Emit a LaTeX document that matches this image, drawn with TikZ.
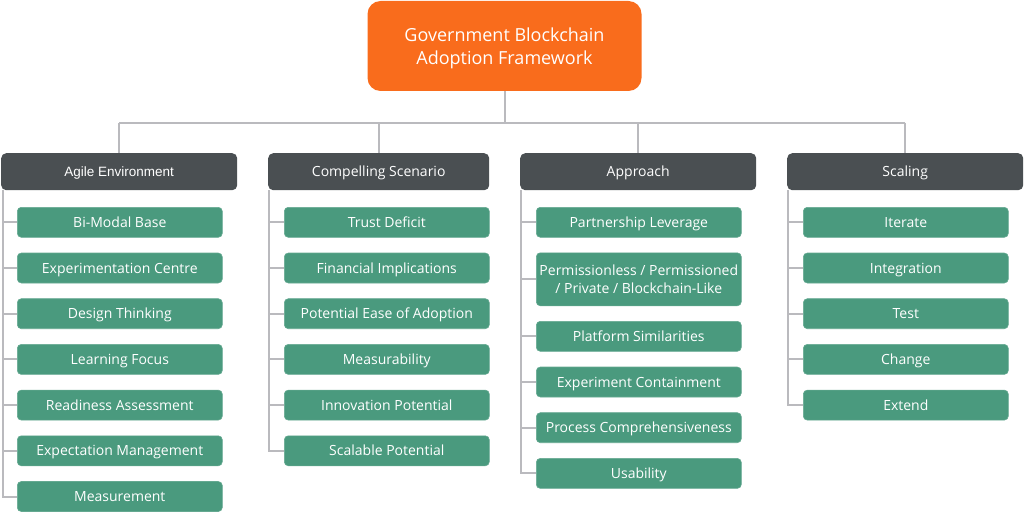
\documentclass[tikz,border=0pt]{standalone}
\usepackage{fontspec}
\setmainfont{Open Sans}
\newfontfamily\arialf{Liberation Sans}
\definecolor{rootorange}{HTML}{F96C1C}
\definecolor{headgray}{HTML}{4A4F52}
\definecolor{leafgreen}{HTML}{4A9A7E}
\definecolor{linegray}{HTML}{BABABE}
\tikzset{
  rootbox/.style={rectangle, rounded corners=13pt, fill=rootorange, minimum width=274pt, minimum height=90pt, inner sep=0pt},
  roottextstyle/.style={text=white, align=center, font=\fontsize{18}{23.5}\selectfont, inner sep=0pt},
  headbox/.style={rectangle, rounded corners=5pt, fill=headgray, text=white, minimum height=37pt, font=\fontsize{14}{16}\selectfont, inner sep=0pt, anchor=north west, text height=12pt, text depth=2pt},
  leafbox/.style={rectangle, rounded corners=4pt, fill=leafgreen, draw=leafgreen!85!white, line width=0.6pt, text=white, minimum width=205pt, minimum height=30pt, font=\fontsize{14}{17}\selectfont, inner sep=0pt, anchor=north west, align=center, text height=12pt, text depth=2pt},
  conn/.style={draw=linegray, line width=2pt}
}
\begin{document}
\begin{tikzpicture}[x=1pt,y=-1pt]
\useasboundingbox (0,0) rectangle (1024,516);
% root
\node[rootbox] (root) at (504.5,46) {};
\node[roottextstyle] (roottext) at ([yshift=-2.5pt]root.center) {Government Blockchain\\Adoption Framework};
% headers
\node[headbox, minimum width=236pt] (h1) at (1,153) {\arialf\fontsize{13.5}{16}\selectfont Agile Environment};
\node[headbox, minimum width=221pt] (h2) at (268,153) {Compelling Scenario};
\node[headbox, minimum width=236pt] (h3) at (520,153) {Approach};
\node[headbox, minimum width=236pt] (h4) at (787,153) {Scaling};
% column 1
\node[leafbox] (a1) at (17,207) {Bi-Modal Base};
\node[leafbox] (a2) at (17,252.7) {Experimentation Centre};
\node[leafbox] (a3) at (17,298.4) {Design Thinking};
\node[leafbox] (a4) at (17,344.1) {Learning Focus};
\node[leafbox] (a5) at (17,389.8) {Readiness Assessment};
\node[leafbox] (a6) at (17,435.5) {Expectation Management};
\node[leafbox] (a7) at (17,481.2) {Measurement};
% column 2
\node[leafbox] (b1) at (284,207) {Trust Deficit};
\node[leafbox] (b2) at (284,252.7) {Financial Implications};
\node[leafbox] (b3) at (284,298.4) {Potential Ease of Adoption};
\node[leafbox] (b4) at (284,344.1) {Measurability};
\node[leafbox] (b5) at (284,389.8) {Innovation Potential};
\node[leafbox] (b6) at (284,435.5) {Scalable Potential};
% column 3
\node[leafbox] (c1) at (536,207) {Partnership Leverage};
\node[leafbox, minimum height=53pt, font=\fontsize{14}{18}\selectfont, text height=, text depth=] (c2) at (536,252.5) {Permissionless / Permissioned\\/ Private / Blockchain-Like};
\node[leafbox] (c3) at (536,321) {Platform Similarities};
\node[leafbox] (c4) at (536,366.7) {Experiment Containment};
\node[leafbox] (c5) at (536,412.4) {Process Comprehensiveness};
\node[leafbox] (c6) at (536,458.1) {Usability};
% column 4
\node[leafbox] (d1) at (803,207) {Iterate};
\node[leafbox] (d2) at (803,252.7) {Integration};
\node[leafbox] (d3) at (803,298.4) {Test};
\node[leafbox] (d4) at (803,344.1) {Change};
\node[leafbox] (d5) at (803,389.8) {Extend};
% top connectors
\coordinate (j) at (504.5,122.5);
\draw[conn] (root.south) -- (j);
\draw[conn] (h1.north |- j) -- (h4.north |- j);
\foreach \h in {h1,h2,h3,h4} \draw[conn] (\h.north |- j) -- (\h.north);
% trunks
\coordinate (t1) at (3,190);
\coordinate (t2) at (269,190);
\coordinate (t3) at (521,190);
\coordinate (t4) at (788,190);
\draw[conn] (t1) |- (a7.west);
\foreach \n in {a1,a2,a3,a4,a5,a6} \draw[conn] (t1 |- \n.west) -- (\n.west);
\draw[conn] (t2) |- (b6.west);
\foreach \n in {b1,b2,b3,b4,b5} \draw[conn] (t2 |- \n.west) -- (\n.west);
\draw[conn] (t3) |- (c6.west);
\foreach \n in {c1,c2,c3,c4,c5} \draw[conn] (t3 |- \n.west) -- (\n.west);
\draw[conn] (t4) |- (d5.west);
\foreach \n in {d1,d2,d3,d4} \draw[conn] (t4 |- \n.west) -- (\n.west);
\end{tikzpicture}
\end{document}
